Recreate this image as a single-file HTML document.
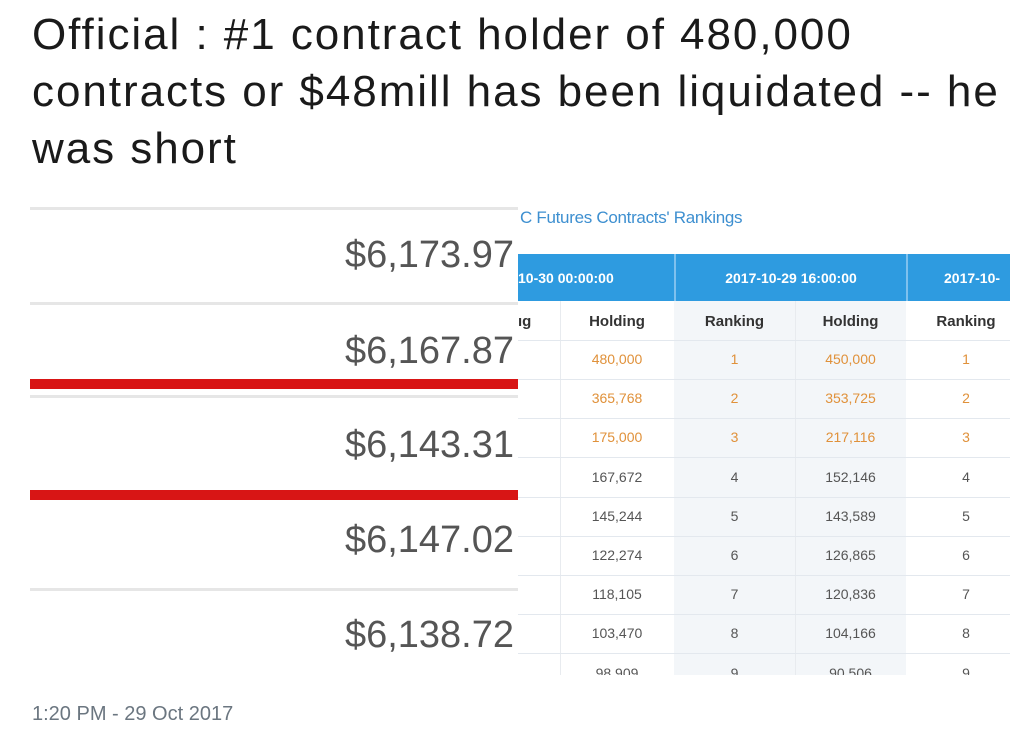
<!DOCTYPE html>
<html><head><meta charset="utf-8"><style>
body{margin:0;width:1034px;height:735px;background:#fff;position:relative;overflow:hidden;font-family:"Liberation Sans",sans-serif}
.t{position:absolute;left:32px;font-size:44px;color:#1a1a1a;letter-spacing:1.95px;white-space:nowrap}
.a{position:absolute}
.p{position:absolute;right:520px;font-size:38px;color:#555}
.gl{position:absolute;left:30px;width:488px;height:3px;background:#e6e6e6}
.rl{position:absolute;left:30px;width:488px;height:10px;background:#d81515}
.c{position:absolute;font-size:14px;text-align:center;color:#555}
.o{color:#e0913a}
.hl{position:absolute;left:518px;width:492px;height:1px;background:#e3e8ee}
</style></head><body>
<div class="t" style="top:10px">Official : #1 contract holder of 480,000</div>
<div class="t" style="top:67px">contracts or $48mill has been liquidated -- he</div>
<div class="t" style="top:124px">was short</div>

<div class="gl" style="top:207px"></div>
<div class="gl" style="top:302px"></div>
<div class="gl" style="top:395px"></div>
<div class="gl" style="top:588px"></div>
<div class="rl" style="top:379px"></div>
<div class="rl" style="top:490px"></div>
<div class="p" style="top:234px">$6,173.97</div>
<div class="p" style="top:330px">$6,167.87</div>
<div class="p" style="top:424px">$6,143.31</div>
<div class="p" style="top:519px">$6,147.02</div>
<div class="p" style="top:614px">$6,138.72</div>

<div class="a" style="left:520px;top:208px;font-size:17px;color:#3d8fd0;letter-spacing:-0.3px">C Futures Contracts' Rankings</div>
<div class="a" style="left:518px;top:254px;width:492px;height:47px;background:#2e9be0"></div>
<div class="a" style="left:674px;top:254px;width:2px;height:47px;background:#7fc1ee"></div>
<div class="a" style="left:906px;top:254px;width:2px;height:47px;background:#7fc1ee"></div>
<div class="a" style="left:674px;top:301px;width:232px;height:374px;background:#f3f6f9"></div>
<div class="a" style="left:560px;top:301px;width:1px;height:374px;background:#e8ebef"></div>
<div class="a" style="left:795px;top:301px;width:1px;height:374px;background:#e8ebef"></div>
<div class="c" style="left:518px;top:270px;width:156px;color:#fff;font-weight:bold;text-align:left;">10-30 00:00:00</div>
<div class="c" style="left:676px;top:270px;width:230px;color:#fff;font-weight:bold">2017-10-29 16:00:00</div>
<div class="c" style="left:944px;top:270px;color:#fff;font-weight:bold">2017-10-</div>
<div class="c" style="left:518px;top:313px;color:#333;font-weight:bold;font-size:15px">ıg</div>
<div class="c" style="left:560px;top:313px;width:114px;color:#333;font-weight:bold;font-size:15px">Holding</div>
<div class="c" style="left:674px;top:313px;width:121px;color:#333;font-weight:bold;font-size:15px">Ranking</div>
<div class="c" style="left:795px;top:313px;width:111px;color:#333;font-weight:bold;font-size:15px">Holding</div>
<div class="c" style="left:906px;top:313px;width:120px;color:#333;font-weight:bold;font-size:15px">Ranking</div>

<div class="hl" style="top:340px"></div><div class="hl" style="top:379px"></div><div class="hl" style="top:418px"></div><div class="hl" style="top:457px"></div><div class="hl" style="top:497px"></div><div class="hl" style="top:536px"></div><div class="hl" style="top:575px"></div><div class="hl" style="top:614px"></div><div class="hl" style="top:653px"></div>

<div class="c o" style="left:560px;top:351px;width:114px">480,000</div><div class="c o" style="left:674px;top:351px;width:121px">1</div><div class="c o" style="left:795px;top:351px;width:111px">450,000</div><div class="c o" style="left:906px;top:351px;width:120px">1</div>
<div class="c o" style="left:560px;top:390px;width:114px">365,768</div><div class="c o" style="left:674px;top:390px;width:121px">2</div><div class="c o" style="left:795px;top:390px;width:111px">353,725</div><div class="c o" style="left:906px;top:390px;width:120px">2</div>
<div class="c o" style="left:560px;top:429px;width:114px">175,000</div><div class="c o" style="left:674px;top:429px;width:121px">3</div><div class="c o" style="left:795px;top:429px;width:111px">217,116</div><div class="c o" style="left:906px;top:429px;width:120px">3</div>
<div class="c" style="left:560px;top:469px;width:114px">167,672</div><div class="c" style="left:674px;top:469px;width:121px">4</div><div class="c" style="left:795px;top:469px;width:111px">152,146</div><div class="c" style="left:906px;top:469px;width:120px">4</div>
<div class="c" style="left:560px;top:508px;width:114px">145,244</div><div class="c" style="left:674px;top:508px;width:121px">5</div><div class="c" style="left:795px;top:508px;width:111px">143,589</div><div class="c" style="left:906px;top:508px;width:120px">5</div>
<div class="c" style="left:560px;top:547px;width:114px">122,274</div><div class="c" style="left:674px;top:547px;width:121px">6</div><div class="c" style="left:795px;top:547px;width:111px">126,865</div><div class="c" style="left:906px;top:547px;width:120px">6</div>
<div class="c" style="left:560px;top:586px;width:114px">118,105</div><div class="c" style="left:674px;top:586px;width:121px">7</div><div class="c" style="left:795px;top:586px;width:111px">120,836</div><div class="c" style="left:906px;top:586px;width:120px">7</div>
<div class="c" style="left:560px;top:625px;width:114px">103,470</div><div class="c" style="left:674px;top:625px;width:121px">8</div><div class="c" style="left:795px;top:625px;width:111px">104,166</div><div class="c" style="left:906px;top:625px;width:120px">8</div>
<div class="a" style="left:518px;top:660px;width:516px;height:15px;overflow:hidden">
<div class="c" style="left:42px;top:5px;width:114px">98,909</div><div class="c" style="left:156px;top:5px;width:121px">9</div><div class="c" style="left:277px;top:5px;width:111px">90,506</div><div class="c" style="left:388px;top:5px;width:120px">9</div></div>
<div class="a" style="left:0;top:675px;width:1034px;height:60px;background:#fff"></div>
<div class="a" style="left:32px;top:703px;font-size:20px;color:#6b7680">1:20 PM - 29 Oct 2017</div>
</body></html>
